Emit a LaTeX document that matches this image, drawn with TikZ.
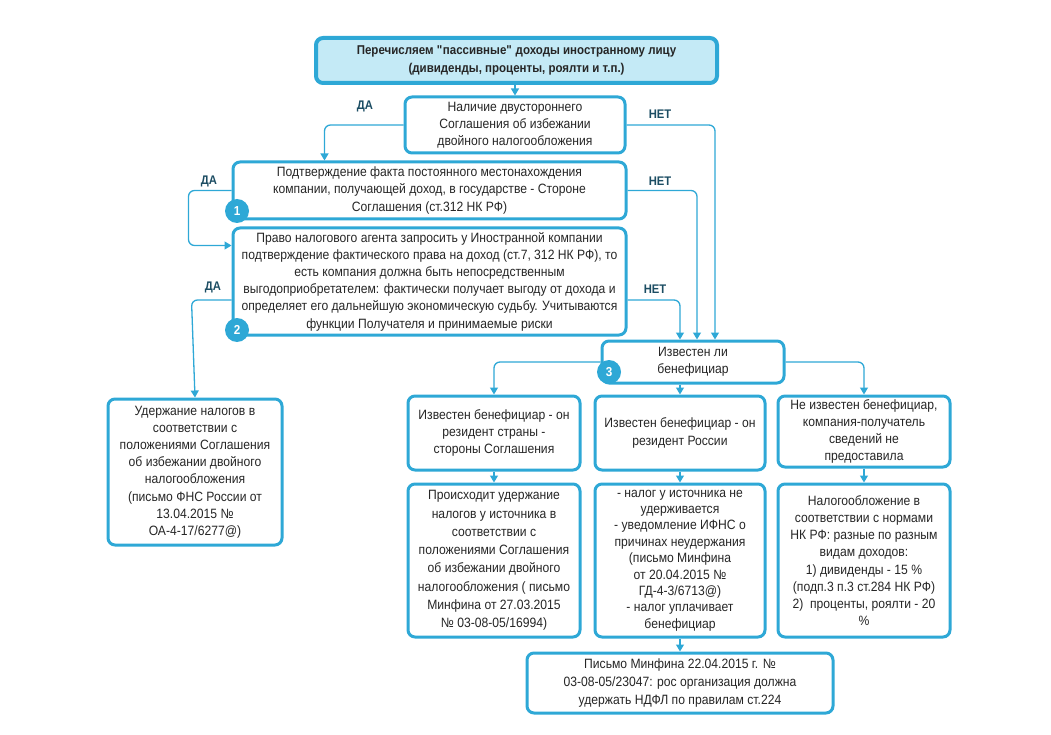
\documentclass[tikz,border=0pt]{standalone}
\usepackage{fontspec}
\setmainfont{Liberation Sans}[FakeStretch=0.9]
\usetikzlibrary{calc,arrows.meta}
\definecolor{boxblue}{HTML}{2EA8D6}
\definecolor{boxfill}{HTML}{C4EAF6}
\definecolor{labteal}{HTML}{1C4D63}
\definecolor{txtgray}{HTML}{262626}
\tikzset{
    flowbox/.style={draw=boxblue, line width=3pt, rounded corners=7pt, fill=white,
        align=center, inner sep=2pt, text=txtgray,
        font=\fontsize{13.5}{17.2}\selectfont},
    topbox/.style={flowbox, fill=boxfill, line width=4pt,
        font=\bfseries\fontsize{12.8}{18}\selectfont},
    link/.style={draw=boxblue, line width=1.3pt, rounded corners=6pt,
        -{Triangle[width=8pt,length=7pt]}},
    yesno/.style={text=labteal, font=\bfseries\fontsize{12.5}{14}\selectfont},
    numdot/.style={circle, fill=boxblue, text=white, inner sep=0pt,
        minimum size=24pt, font=\bfseries\fontsize{13}{14}\selectfont}
}
\begin{document}
\begin{tikzpicture}[x=1pt, y=-1pt]
    \useasboundingbox (0,0) rectangle (1051,735);
    % boxes
    \node[topbox, minimum width=401, minimum height=45] (top) at (516.5,60.5)
        {Перечисляем \textquotedbl пассивные\textquotedbl{} доходы иностранному лицу\\(дивиденды, проценты, роялти и т.п.)};
    \node[flowbox, minimum width=220, minimum height=56] (treaty) at (515,125)
        {Наличие двустороннего\\Соглашения об избежании\\двойного налогообложения};
    \node[flowbox, minimum width=393, minimum height=57] (resid) at (429.5,190.5)
        {Подтверждение факта постоянного местонахождения\\компании, получающей доход, в государстве - Стороне\\Соглашения (ст.312 НК РФ)};
    \node[flowbox, minimum width=393, minimum height=107] (right) at (429.5,281.5)
        {Право налогового агента запросить у Иностранной компании\\подтверждение фактического права на доход (ст.7, 312 НК РФ), то\\есть компания должна быть непосредственным\\выгодоприобретателем: фактически получает выгоду от дохода и\\определяет его дальнейшую экономическую судьбу. Учитываются\\функции Получателя и принимаемые риски};
    \node[flowbox, minimum width=182, minimum height=42] (benef) at (693,362)
        {Известен ли\\бенефициар};
    \node[flowbox, minimum width=174, minimum height=146] (treatytax) at (195,472)
        {Удержание налогов в\\соответствии с\\положениями Соглашения\\об избежании двойного\\налогообложения\\(письмо ФНС России от\\13.04.2015 №\\ОА-4-17/6277@)};
    \node[flowbox, minimum width=172, minimum height=74] (benefa) at (494,433)
        {Известен бенефициар - он\\резидент страны -\\стороны Соглашения};
    \node[flowbox, minimum width=170, minimum height=74] (benefb) at (680,433)
        {Известен бенефициар - он\\резидент России};
    \node[flowbox, minimum width=172, minimum height=71] (benefc) at (864,431.5)
        {Не известен бенефициар,\\компания-получатель\\сведений не\\предоставила};
    \node[flowbox, minimum width=172, minimum height=153, font=\fontsize{13.5}{18.3}\selectfont] (taxa) at (494,560.5)
        {Происходит удержание\\налогов у источника в\\соответствии с\\положениями Соглашения\\об избежании двойного\\налогообложения ( письмо\\Минфина от 27.03.2015\\№ 03-08-05/16994)};
    \node[flowbox, minimum width=170, minimum height=153, font=\fontsize{13.5}{16.4}\selectfont] (taxb) at (680,560.5)
        {- налог у источника не\\удерживается\\- уведомление ИФНС о\\причинах неудержания\\(письмо Минфина\\от 20.04.2015 №\\ГД-4-3/6713@)\\- налог уплачивает\\бенефициар};
    \node[flowbox, minimum width=172, minimum height=153] (taxc) at (864,560.5)
        {Налогообложение в\\соответствии с нормами\\НК РФ: разные по разным\\видам доходов:\\1) дивиденды - 15 \%\\(подп.3 п.3 ст.284 НК РФ)\\2)\ \ проценты, роялти - 20\\\%};
    \node[flowbox, minimum width=306, minimum height=60, font=\fontsize{13.5}{18}\selectfont] (ndfl) at (680,683)
        {Письмо Минфина 22.04.2015 г. №\\03-08-05/23047: рос организация должна\\удержать НДФЛ по правилам ст.224};
    % connectors
    \draw[link] (top.south -| treaty.north) -- (treaty.north);
    \draw[link] (treaty.west) -| ($(resid.north west)+(93,0)$);
    \draw[link] (treaty.east) -| ($(benef.north)+(22,0)$);
    \draw[link] (resid.west) -- ++(-43,0) |- ($(right.north west)+(0,19)$);
    \draw[link] (resid.east) -| ($(benef.north)+(4,0)$);
    \draw[link] ($(right.west)+(0,18.5)$) -- ++(-40,0) -- (treatytax.north);
    \draw[link] ($(right.east)+(0,18.5)$) -| ($(benef.north)+(-13,0)$);
    \draw[link] (benef.west) -| (benefa.north);
    \draw[link] (benef.south -| benefb.north) -- (benefb.north);
    \draw[link] (benef.east) -| (benefc.north);
    \draw[link] (benefa) -- (taxa);
    \draw[link] (benefb) -- (taxb);
    \draw[link] (benefc) -- (taxc);
    \draw[link] (taxb) -- (ndfl);
    % labels
    \node[yesno] (yes1) at (365,106) {ДА};
    \node[yesno] (no1) at (660,114) {НЕТ};
    \node[yesno] (yes2) at (209,181) {ДА};
    \node[yesno] (no2) at (660,181) {НЕТ};
    \node[yesno] (yes3) at (213,287) {ДА};
    \node[yesno] (no3) at (655,289) {НЕТ};
    % step numbers
    \node[numdot] (one) at (237,211) {1};
    \node[numdot] (two) at (237,330) {2};
    \node[numdot] (three) at (609,372) {3};
\end{tikzpicture}
\end{document}
